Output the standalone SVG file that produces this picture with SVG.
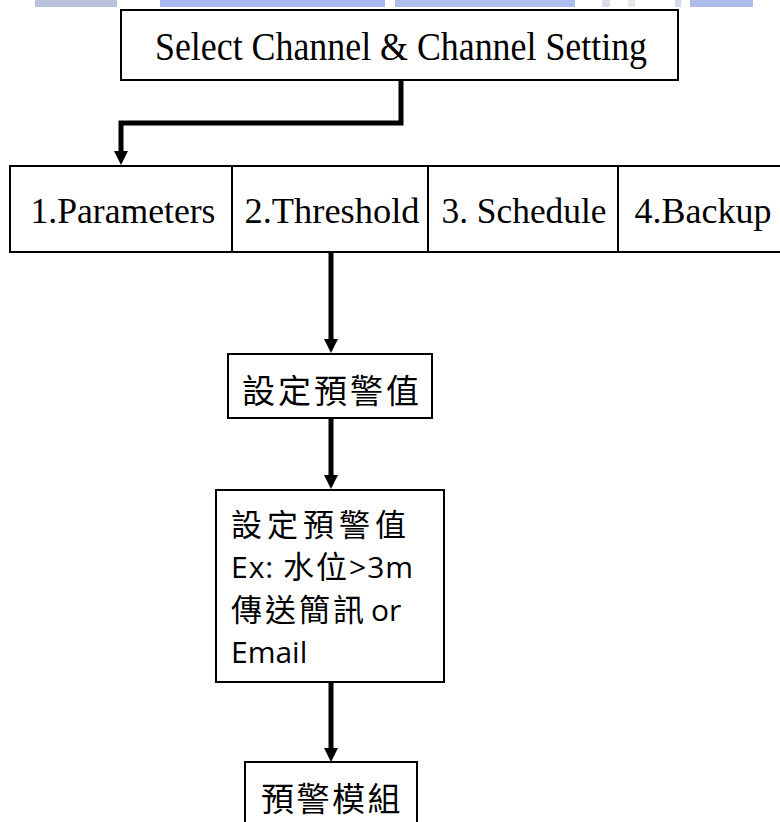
<svg xmlns="http://www.w3.org/2000/svg" width="780" height="822" viewBox="0 0 780 822">
  <style>
    .box { fill: #ffffff; stroke: #000000; stroke-width: 2; }
    .serif { font-family: "Liberation Serif", "Times New Roman", serif; fill: #000000; }
    .cjk { font-family: "Open Sans", "Noto Sans CJK TC", sans-serif; fill: #000000; }
    .han { font-family: "Noto Sans CJK TC", sans-serif; }
    .wire { fill: none; stroke: #000000; stroke-width: 5; stroke-linejoin: miter; stroke-linecap: butt; }
  </style>
  <defs>
    <marker id="head" markerUnits="userSpaceOnUse" viewBox="0 0 14 14" markerWidth="14" markerHeight="14" refX="0" refY="7" orient="auto">
      <path d="M0,0 L14,7 L0,14 Z" fill="#000000"/>
    </marker>
  </defs>

  <rect width="780" height="822" fill="#ffffff"/>

  <!-- banner strip along the top edge -->
  <g id="banner">
    <rect x="35" y="0" width="82" height="7" fill="#b8c0dc"/>
    <rect x="160" y="0" width="225" height="7" fill="#a9baf0"/>
    <rect x="395" y="0" width="180" height="7" fill="#aebdec"/>
    <rect x="602" y="0" width="8" height="7" fill="#dadee9"/>
    <rect x="628" y="0" width="7" height="7" fill="#e4e7ee"/>
    <rect x="675" y="0" width="6" height="7" fill="#d3d9e8"/>
    <rect x="690" y="0" width="63" height="7" fill="#adbbe8"/>
  </g>

  <!-- connectors -->
  <g id="connectors">
    <path class="wire" d="M401,80 V123 H121 V151" marker-end="url(#head)"/>
    <path class="wire" d="M331,253 V339" marker-end="url(#head)"/>
    <path class="wire" d="M331,419 V475" marker-end="url(#head)"/>
    <path class="wire" d="M331,683 V748" marker-end="url(#head)"/>
  </g>

  <g id="select-channel">
    <rect class="box" x="121" y="10" width="557" height="70"/>
    <text class="serif" x="155" y="60" font-size="41" textLength="492" lengthAdjust="spacingAndGlyphs">Select Channel &amp; Channel Setting</text>
  </g>

  <g id="tabs">
    <rect class="box" x="10" y="166" width="790" height="86"/>
    <line x1="232" y1="166" x2="232" y2="252" stroke="#000" stroke-width="2"/>
    <line x1="428" y1="166" x2="428" y2="252" stroke="#000" stroke-width="2"/>
    <line x1="618" y1="166" x2="618" y2="252" stroke="#000" stroke-width="2"/>
    <g id="tab-parameters"><text class="serif" x="123" y="223" font-size="36" text-anchor="middle" textLength="185" lengthAdjust="spacingAndGlyphs">1.Parameters</text></g>
    <g id="tab-threshold"><text class="serif" x="332" y="223" font-size="36" text-anchor="middle" textLength="175" lengthAdjust="spacingAndGlyphs">2.Threshold</text></g>
    <g id="tab-schedule"><text class="serif" x="524" y="223" font-size="36" text-anchor="middle" textLength="165" lengthAdjust="spacingAndGlyphs">3. Schedule</text></g>
    <g id="tab-backup"><text class="serif" x="703" y="223" font-size="36" text-anchor="middle" textLength="137" lengthAdjust="spacingAndGlyphs">4.Backup</text></g>
  </g>

  <g id="set-threshold">
    <rect class="box" x="228" y="354" width="204" height="64"/>
    <text class="cjk han" x="242" y="403" font-size="33" letter-spacing="3">設定預警值</text>
  </g>

  <g id="threshold-detail">
    <rect class="box" x="216" y="490" width="228" height="192"/>
    <text class="cjk" font-size="30">
      <tspan class="han" x="231" y="536" font-size="31" letter-spacing="5">設定預警值</tspan>
      <tspan x="231" y="578" letter-spacing="1">Ex: </tspan><tspan class="han" font-size="31" letter-spacing="2">水位</tspan><tspan letter-spacing="1">&gt;3m</tspan>
      <tspan class="han" x="231" y="621" font-size="31" letter-spacing="3">傳送簡訊</tspan><tspan dx="4">or</tspan>
      <tspan x="231" y="663">Email</tspan>
    </text>
  </g>

  <g id="alert-module">
    <rect class="box" x="245" y="762" width="172" height="80"/>
    <text class="cjk han" x="261" y="811" font-size="33" letter-spacing="2.5">預警模組</text>
  </g>
</svg>
